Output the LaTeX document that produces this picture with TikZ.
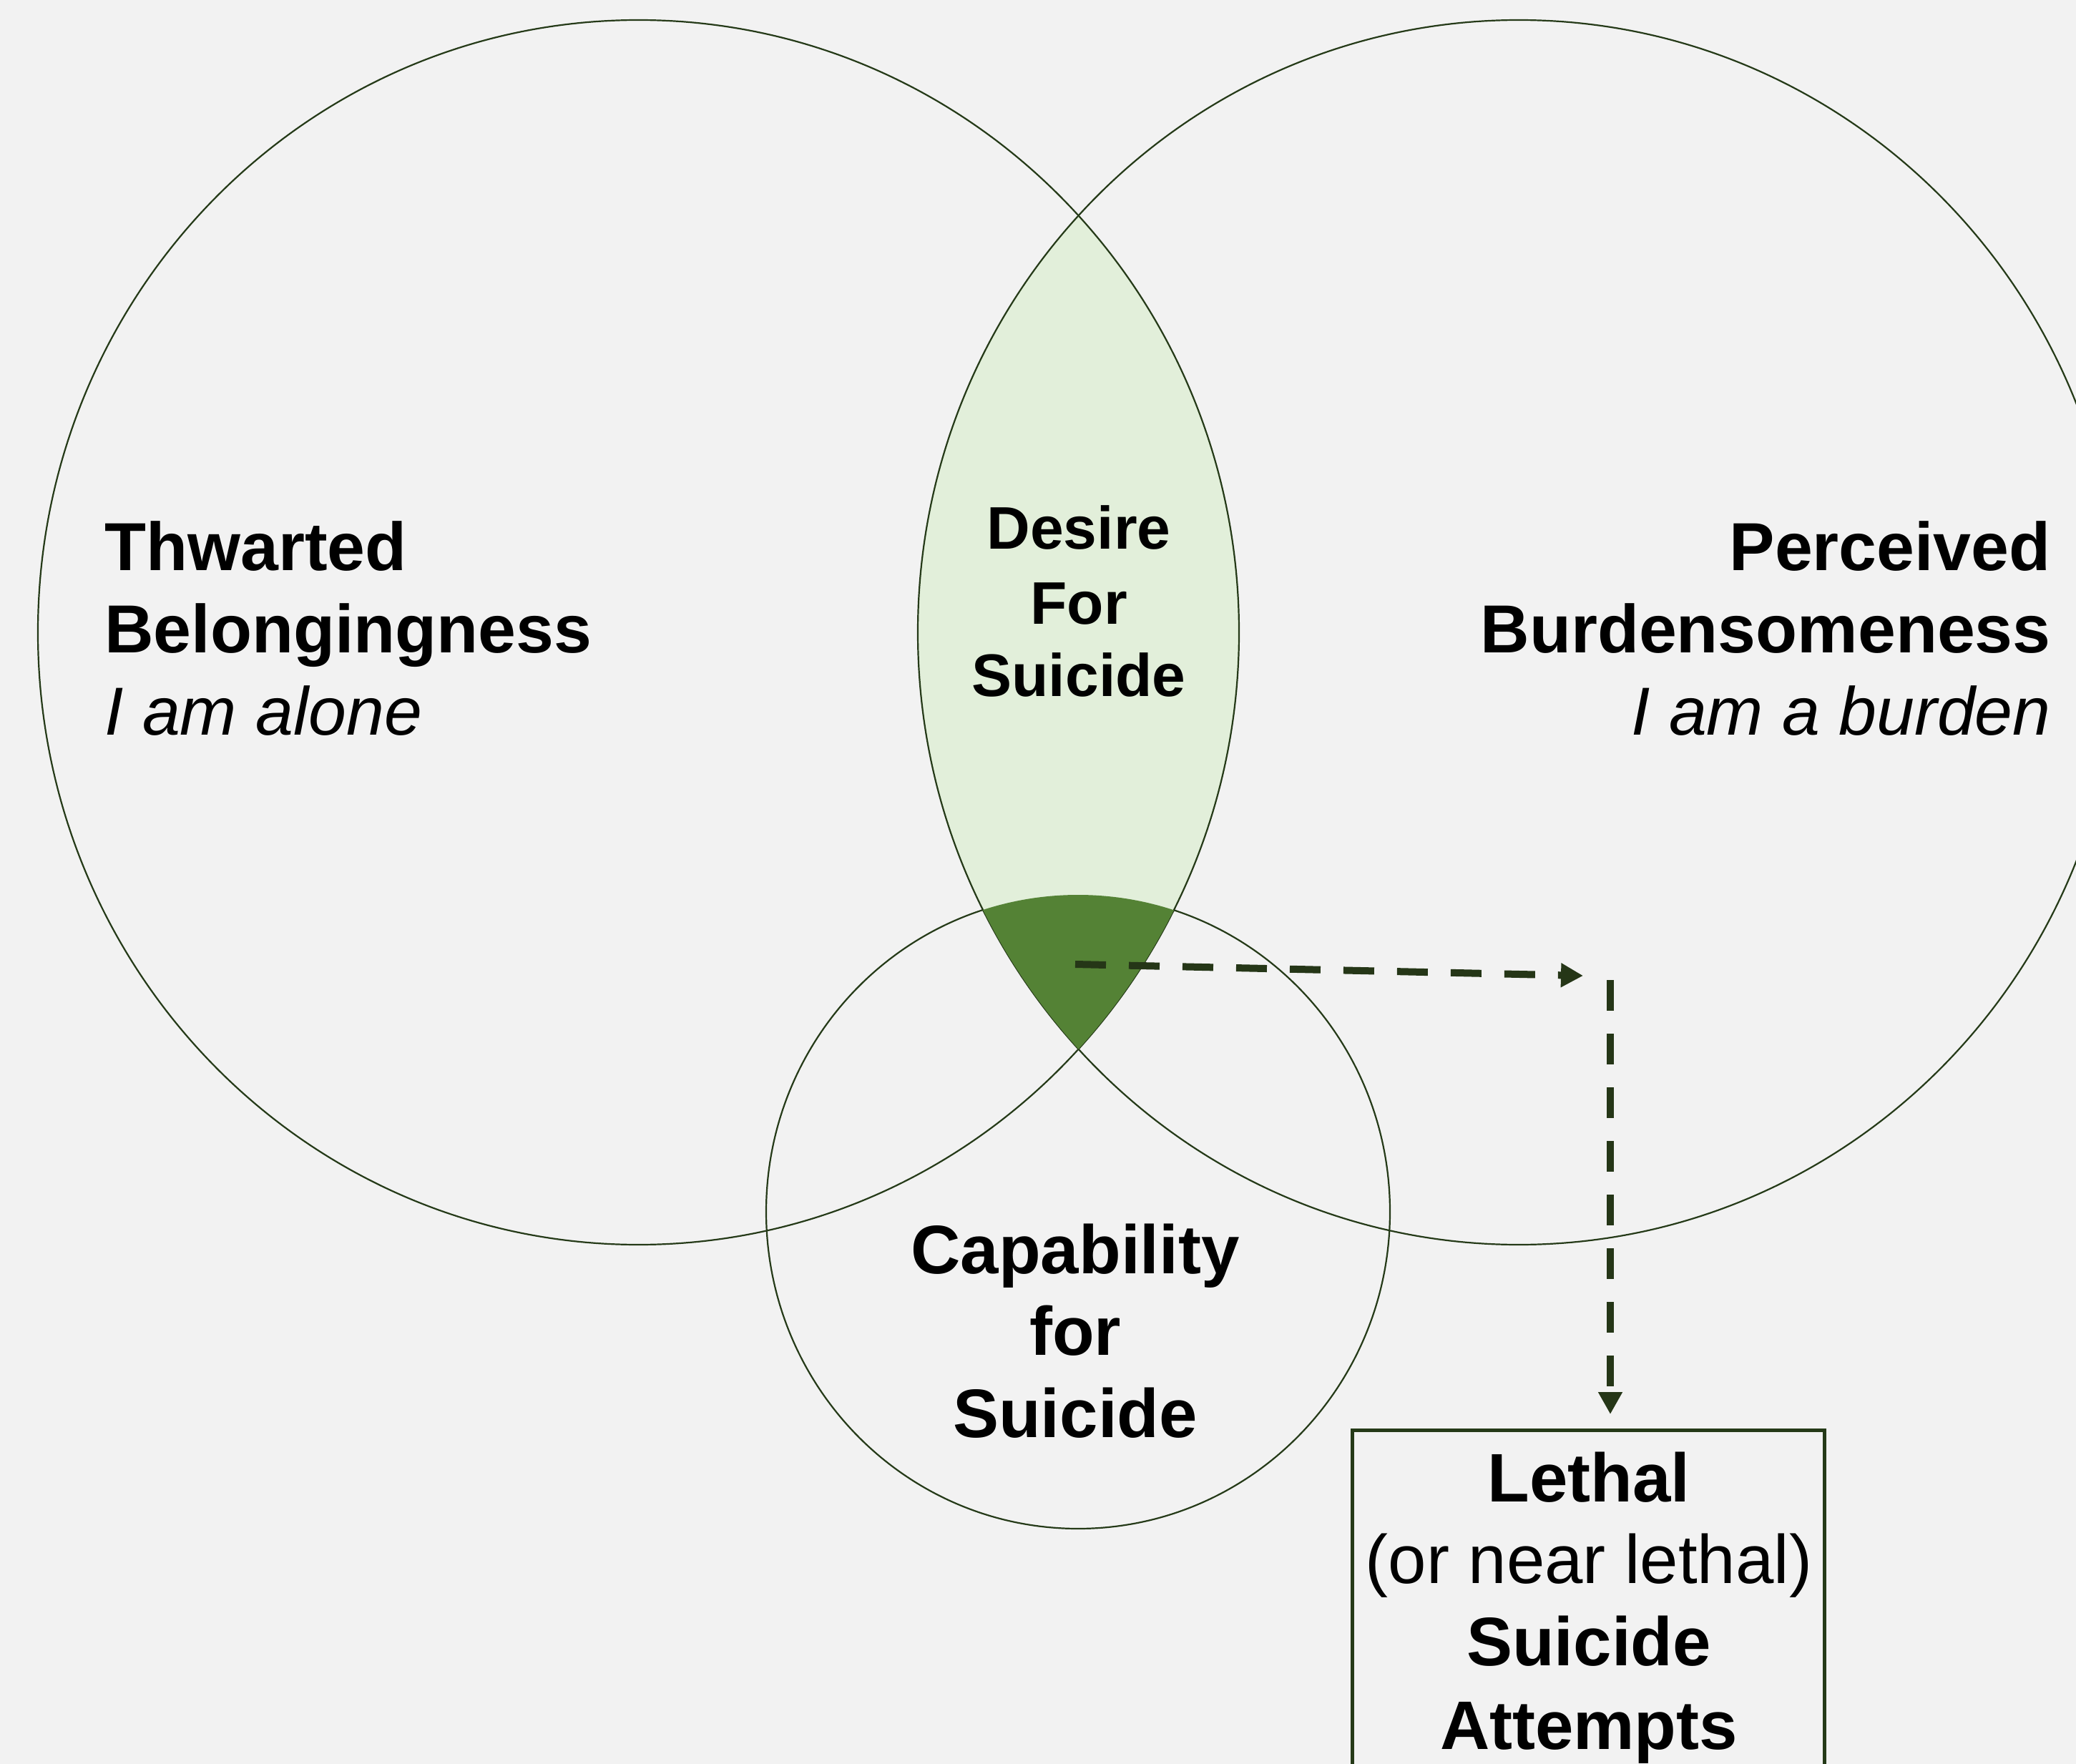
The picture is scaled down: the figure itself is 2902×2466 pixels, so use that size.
\documentclass[tikz,border=0pt]{standalone}
\usepackage{fontspec}
\setmainfont{Liberation Sans}
\usetikzlibrary{arrows.meta}
\definecolor{bg}{HTML}{F2F2F2}
\definecolor{edge}{HTML}{253A18}
\definecolor{lightg}{HTML}{E2EFDA}
\definecolor{darkg}{HTML}{548235}
\definecolor{arrowc}{HTML}{253617}
\begin{document}
\begin{tikzpicture}[x=0.5pt,y=-0.5pt,
  ring/.style={draw=edge, line width=1.1pt},
  flow/.style={draw=arrowc, line width=5pt, dash pattern=on 21.5pt off 16pt,
    -{Triangle[length=15.5pt,width=16pt]}},
  lbl/.style={inner sep=0pt, text=black},
  bigb/.style={lbl, font=\fontsize{47.5pt}{57pt}\selectfont\bfseries},
  bigi/.style={lbl, font=\fontsize{47.5pt}{57pt}\selectfont\itshape},
  midb/.style={lbl, font=\fontsize{42pt}{50pt}\selectfont\bfseries},
  capb/.style={lbl, font=\fontsize{48pt}{57pt}\selectfont\bfseries},
  capr/.style={lbl, font=\fontsize{48pt}{57pt}\selectfont},
  boxst/.style={draw=edge, line width=2.5pt, minimum width=330pt, minimum height=300pt, inner sep=0pt}
]
\useasboundingbox[fill=bg] (0,0) rectangle (2902,2466);

% small circle outline
\draw[ring] (1507,1694) ellipse [x radius=436, y radius=443];
% lens fill
\begin{scope}
  \clip (892.5,884) ellipse [x radius=839.5, y radius=856];
  \fill[lightg] (2123,884) ellipse [x radius=840, y radius=856];
\end{scope}
% big circles
\draw[ring] (892.5,884) ellipse [x radius=839.5, y radius=856];
\draw[ring] (2123,884) ellipse [x radius=840, y radius=856];
% triple intersection
\begin{scope}
  \clip (892.5,884) ellipse [x radius=839.5, y radius=856];
  \clip (2123,884) ellipse [x radius=840, y radius=856];
  \fill[darkg] (1507,1694) ellipse [x radius=436, y radius=443];
\end{scope}

% texts left
\node[bigb, anchor=base west] (tb1) at (146,797) {Thwarted};
\node[bigb, anchor=base west] (tb2) at (146,912) {Belongingness};
\node[bigi, anchor=base west] (tb3) at (146,1027) {I am alone};
% texts right
\node[bigb, anchor=base east] (pb1) at (2867,797) {Perceived};
\node[bigb, anchor=base east] (pb2) at (2867,912) {Burdensomeness};
\node[bigi, anchor=base east] (pb3) at (2867,1027) {I am a burden};
% desire
\node[midb, anchor=base] (ds1) at (1508,767) {Desire};
\node[midb, anchor=base] (ds2) at (1508,872) {For};
\node[midb, anchor=base] (ds3) at (1508,973) {Suicide};
% capability
\node[capb, anchor=base] (cs1) at (1503,1780) {Capability};
\node[capb, anchor=base] (cs2) at (1503,1894) {for};
\node[capb, anchor=base] (cs3) at (1503,2009) {Suicide};

% box
\node[boxst, anchor=north] (box) at (2220.5,1997) {};
\node[capb, anchor=base] (bx1) at (2221,2099) {Lethal};
\node[capr, anchor=base] (bx2) at (2221,2213) {(or near lethal)};
\node[capb, anchor=base] (bx3) at (2221,2328) {Suicide};
\node[capb, anchor=base] (bx4) at (2221,2445) {Attempts};

% connectors
\coordinate (a0) at (1503,1348);
\coordinate (a1) at (2213,1364);
\draw[flow] (a0) -- (a1);
\coordinate (b0) at (2251,1370);
\draw[flow, shorten >=10pt] (b0) -- (b0 |- box.north);
\end{tikzpicture}
\end{document}
